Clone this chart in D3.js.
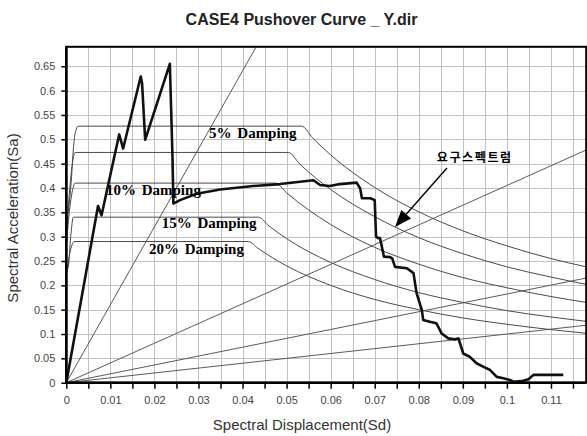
<!DOCTYPE html>
<html>
<head>
<meta charset="utf-8">
<script src="https://cdn.jsdelivr.net/npm/d3@7"></script>
<style>
  html, body { margin: 0; padding: 0; background: #fff; }
  svg { display: block; }
</style>
</head>
<body>
<svg id="chart" width="587" height="436"></svg>
<script>
// ---- Tick values and labels ----
const xTickValues = [0, 0.01, 0.02, 0.03, 0.04, 0.05, 0.06, 0.07, 0.08, 0.09, 0.1, 0.11];
const xTickLabels = ["0", "0.01", "0.02", "0.03", "0.04", "0.05", "0.06", "0.07", "0.08", "0.09", "0.1", "0.11"];
const yTickValues = [0, 0.05, 0.1, 0.15, 0.2, 0.25, 0.3, 0.35, 0.4, 0.45, 0.5, 0.55, 0.6, 0.65];
const yTickLabels = ["0", "0.05", "0.1", "0.15", "0.2", "0.25", "0.3", "0.35", "0.4", "0.45", "0.5", "0.55", "0.6", "0.65"];

// ---- Demand spectra [Sd, Sa] ----
const spectrum5 = [[0, 0.33], [0.0007, 0.37], [0.0012, 0.424], [0.0016, 0.48], [0.002, 0.512], [0.0027, 0.527],
  [0.0534, 0.527], [0.056, 0.502], [0.06, 0.468], [0.07, 0.401], [0.08, 0.351], [0.09, 0.312], [0.1, 0.281], [0.11, 0.255], [0.118, 0.238]];
const spectrum10 = [[0, 0.30], [0.0008, 0.40], [0.0013, 0.445], [0.002, 0.473],
  [0.0504, 0.473], [0.053, 0.449], [0.06, 0.397], [0.07, 0.341], [0.08, 0.298], [0.09, 0.265], [0.1, 0.238], [0.11, 0.217], [0.118, 0.202]];
const spectrumMid = [[0, 0.28], [0.0008, 0.36], [0.0013, 0.39], [0.002, 0.41],
  [0.0475, 0.41], [0.05, 0.39], [0.06, 0.325], [0.07, 0.278], [0.08, 0.2435], [0.09, 0.216], [0.1, 0.195], [0.11, 0.177], [0.118, 0.165]];
const spectrum15 = [[0, 0.23], [0.00045, 0.238], [0.001, 0.30], [0.0016, 0.34],
  [0.0436, 0.34], [0.046, 0.322], [0.05, 0.296], [0.06, 0.247], [0.07, 0.212], [0.08, 0.185], [0.09, 0.165], [0.1, 0.148], [0.11, 0.135], [0.118, 0.126]];
const spectrum20 = [[0, 0.22], [0.0008, 0.266], [0.0013, 0.283], [0.00175, 0.29],
  [0.0413, 0.29], [0.0435, 0.276], [0.05, 0.240], [0.06, 0.200], [0.07, 0.171], [0.08, 0.150], [0.09, 0.133], [0.1, 0.120], [0.11, 0.109], [0.118, 0.1015]];
const spectra = [spectrum5, spectrum10, spectrumMid, spectrum15, spectrum20];

// ---- Constant-period radial lines [Sd, Sa] end points ----
const periodLines = [
  [[0, 0], [0.0431, 0.69]],
  [[0, 0], [0.118, 0.478]],
  [[0, 0], [0.118, 0.215]],
  [[0, 0], [0.118, 0.118]]
];

// ---- Capacity (pushover) curve [Sd, Sa] ----
const pushover = [
  [0, 0], [0.0072, 0.363], [0.0080, 0.344], [0.0120, 0.510], [0.0129, 0.481], [0.0169, 0.629],
  [0.0172, 0.615], [0.0179, 0.499], [0.0235, 0.655], [0.0238, 0.560], [0.0241, 0.464], [0.0243, 0.368],
  [0.0258, 0.375], [0.0296, 0.388], [0.0349, 0.397], [0.0424, 0.404], [0.0485, 0.408], [0.0561, 0.416],
  [0.0576, 0.406], [0.0598, 0.404], [0.0621, 0.408], [0.0659, 0.411], [0.0667, 0.399], [0.0671, 0.379],
  [0.0690, 0.379], [0.0700, 0.375], [0.0703, 0.300], [0.0708, 0.297], [0.0712, 0.297], [0.0721, 0.259],
  [0.0735, 0.258], [0.0740, 0.255], [0.0746, 0.238], [0.0773, 0.235], [0.0788, 0.225], [0.0795, 0.184],
  [0.0807, 0.149], [0.0810, 0.129], [0.0825, 0.125], [0.0840, 0.122], [0.0844, 0.115], [0.0852, 0.101],
  [0.0867, 0.091], [0.0882, 0.089], [0.0890, 0.091], [0.0901, 0.060], [0.0916, 0.053], [0.0931, 0.040],
  [0.0946, 0.033], [0.0962, 0.026], [0.0977, 0.012], [0.0992, 0.009], [0.1007, 0.0055], [0.1015, 0.002],
  [0.1037, 0.004], [0.1049, 0.007], [0.1060, 0.016], [0.1128, 0.016]
];

// ---- Annotation texts ----
const dampingLabels = ["5% Damping", "10% Damping", "15% Damping", "20% Damping"];
const demandLabel = "요구스펙트럼";
const titleText = "CASE4 Pushover Curve _ Y.dir";
const xAxisTitle = "Spectral Displacement(Sd)";
const yAxisTitle = "Spectral Acceleration(Sa)";

// ---- Layout ----
const svg = d3.select("#chart");
const plot = { left: 66.3, right: 586.2, top: 46.8, bottom: 382.7 };

const x = d3.scaleLinear().domain([0, 0.118]).range([plot.left, plot.right]);
const y = d3.scaleLinear().domain([0, 0.69]).range([plot.bottom, plot.top]);

svg.append("rect").attr("width", 587).attr("height", 436).attr("fill", "#fff");

// clip for plot area
svg.append("defs").append("clipPath").attr("id", "plotClip")
  .append("rect")
  .attr("x", plot.left).attr("y", plot.top)
  .attr("width", plot.right - plot.left).attr("height", plot.bottom - plot.top);

// grid
const grid = svg.append("g").attr("stroke", "#c2c2c2").attr("stroke-width", 1);
const xGridVals = d3.range(1, 24).map(i => i * 0.005);
grid.selectAll("line.vx").data(xGridVals).join("line")
  .attr("x1", d => Math.round(x(d)) + 0.5).attr("x2", d => Math.round(x(d)) + 0.5)
  .attr("y1", plot.top).attr("y2", plot.bottom);
grid.selectAll("line.hy").data(yTickValues.slice(1)).join("line")
  .attr("y1", d => Math.round(y(d)) + 0.5).attr("y2", d => Math.round(y(d)) + 0.5)
  .attr("x1", plot.left).attr("x2", plot.right);

const g = svg.append("g").attr("clip-path", "url(#plotClip)");

const line = d3.line().x(d => x(d[0])).y(d => y(d[1]));
const smooth = d3.line().x(d => x(d[0])).y(d => y(d[1])).curve(d3.curveMonotoneX);

// radial constant-period lines
g.selectAll("path.period").data(periodLines).join("path")
  .attr("d", line).attr("fill", "none").attr("stroke", "#5a5a5a").attr("stroke-width", 1);

// demand spectra
g.selectAll("path.spec").data(spectra).join("path")
  .attr("d", smooth).attr("fill", "none").attr("stroke", "#4a4a4a").attr("stroke-width", 1);

// pushover curve
g.append("path").datum(pushover)
  .attr("d", line).attr("fill", "none").attr("stroke", "#111")
  .attr("stroke-width", 2.6).attr("stroke-linejoin", "round");

// frame: top/right lighter, left/bottom axis lines heavier
svg.append("rect")
  .attr("x", plot.left).attr("y", plot.top)
  .attr("width", plot.right - plot.left).attr("height", plot.bottom - plot.top)
  .attr("fill", "none").attr("stroke", "#000").attr("stroke-width", 2);
svg.append("path")
  .attr("d", `M${plot.left},${plot.top}V${plot.bottom}H${plot.right}`)
  .attr("fill", "none").attr("stroke", "#000").attr("stroke-width", 2.6);

// x axis ticks
const xAxis = d3.axisBottom(x)
  .tickValues(d3.range(0, 24).map(i => i * 0.005))
  .tickSize(6)
  .tickFormat(d => {
    const i = xTickValues.findIndex(v => Math.abs(v - d) < 1e-9);
    return i >= 0 ? xTickLabels[i] : "";
  });
const gx = svg.append("g").attr("transform", `translate(0,${plot.bottom})`).call(xAxis);
gx.select(".domain").remove();
gx.selectAll(".tick line").attr("stroke", "#000").attr("stroke-width", 1.5);
gx.selectAll(".tick text").attr("fill", "#444").attr("font-family", "Liberation Sans, Arial, sans-serif")
  .attr("font-size", 11).attr("dy", "1.1em");

// y axis ticks
const yAxis = d3.axisLeft(y)
  .tickValues(yTickValues)
  .tickSize(5)
  .tickFormat((d, i) => yTickLabels[i]);
const gy = svg.append("g").attr("transform", `translate(${plot.left},0)`).call(yAxis);
gy.select(".domain").remove();
gy.selectAll(".tick line").attr("stroke", "#000").attr("stroke-width", 1.5);
gy.selectAll(".tick text").attr("fill", "#444").attr("font-family", "Liberation Sans, Arial, sans-serif")
  .attr("font-size", 11).attr("x", -11);

// title
svg.append("text").attr("x", 301.5).attr("y", 25).attr("text-anchor", "middle")
  .attr("font-family", "Liberation Sans, Arial, sans-serif").attr("font-weight", "bold")
  .attr("font-size", 16).attr("fill", "#222").text(titleText);

// axis titles
svg.append("text").attr("x", 302).attr("y", 430).attr("text-anchor", "middle")
  .attr("font-family", "Liberation Sans, Arial, sans-serif").attr("font-size", 15)
  .attr("fill", "#333").text(xAxisTitle);
svg.append("text").attr("transform", "translate(17.5,218) rotate(-90)").attr("text-anchor", "middle")
  .attr("font-family", "Liberation Sans, Arial, sans-serif").attr("font-size", 15)
  .attr("fill", "#333").text(yAxisTitle);

// damping labels, anchored in data space
const labelAnchors = [[0.0324, 0.5027], [0.0090, 0.3856], [0.02165, 0.3178], [0.01877, 0.2645]];
svg.selectAll("text.damp").data(dampingLabels).join("text")
  .attr("x", (d, i) => x(labelAnchors[i][0]))
  .attr("y", (d, i) => y(labelAnchors[i][1]))
  .attr("font-family", "Liberation Serif, Times New Roman, serif").attr("font-weight", "bold")
  .attr("font-size", 15).attr("fill", "#000").attr("word-spacing", 2)
  .text(d => d);

// demand spectrum callout
svg.append("text").attr("x", x(0.0841)).attr("y", y(0.4534))
  .attr("font-family", "Noto Sans CJK KR, sans-serif").attr("font-weight", "bold")
  .attr("font-size", 12).attr("letter-spacing", 1.6).attr("fill", "#000").text(demandLabel);

const a0 = [x(0.0864), y(0.4409)], a1 = [x(0.0746), y(0.3199)];
const ang = Math.atan2(a1[1] - a0[1], a1[0] - a0[0]);
const headLen = 17, headHalf = 6.5;
const base = [a1[0] - headLen * Math.cos(ang), a1[1] - headLen * Math.sin(ang)];
svg.append("line").attr("x1", a0[0]).attr("y1", a0[1]).attr("x2", base[0]).attr("y2", base[1])
  .attr("stroke", "#000").attr("stroke-width", 1.4);
svg.append("path")
  .attr("d", `M${a1[0]},${a1[1]}L${base[0] + headHalf * Math.sin(ang)},${base[1] - headHalf * Math.cos(ang)}L${base[0] - headHalf * Math.sin(ang)},${base[1] + headHalf * Math.cos(ang)}Z`)
  .attr("fill", "#000");
</script>
</body>
</html>
